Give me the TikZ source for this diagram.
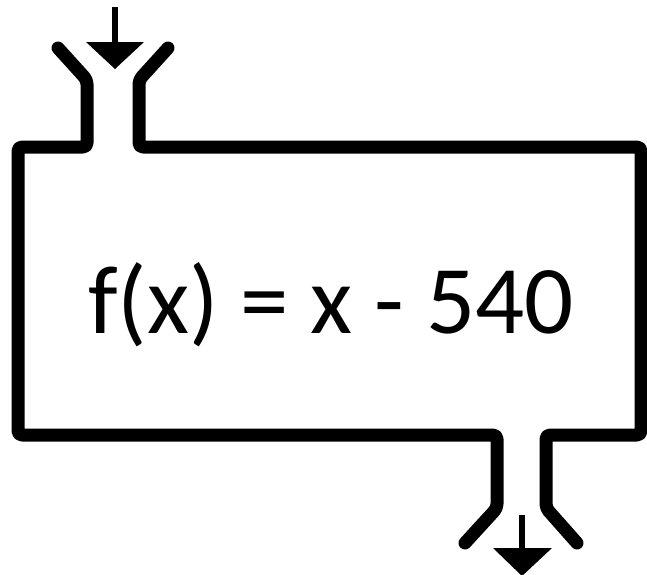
\documentclass[tikz,border=0pt]{standalone}
\usepackage{fontspec}
\setmainfont{Carlito}
\begin{document}
\begin{tikzpicture}[x=1pt,y=-1pt,
  pipe/.style={line width=13pt,line cap=round,line join=round,rounded corners=4pt},
  stem/.style={line width=6pt},
  headtri/.style={fill=black}]
\useasboundingbox (0,0) rectangle (647,574);
% input funnel + box
\coordinate (inL0) at (58,48);
\coordinate (inL1) at (87,80);
\coordinate (inL2) at (87,147);
\coordinate (tl) at (18,147);
\coordinate (bl) at (18,435);
\coordinate (outL0) at (497,435);
\coordinate (outL1) at (497,508);
\coordinate (outL2) at (465,543);
\coordinate (inR0) at (168,48);
\coordinate (inR1) at (139,80);
\coordinate (inR2) at (139,147);
\coordinate (tr) at (641,147);
\coordinate (br) at (641,435);
\coordinate (outR0) at (546,435);
\coordinate (outR1) at (546,508);
\coordinate (outR2) at (577,543);
\draw[pipe] (inL0) -- (inL1) -- (inL2) -- (tl) -- (bl) -- (outL0) -- (outL1) -- (outL2);
\draw[pipe] (inR0) -- (inR1) -- (inR2) -- (tr) -- (br) -- (outR0) -- (outR1) -- (outR2);
% input arrow
\coordinate (ia0) at (115,7);
\coordinate (ia1) at (115,43);
\draw[stem] (ia0) -- (ia1);
\fill[headtri] (86,42) -- (144,42) -- (115,69) -- cycle;
% output arrow
\coordinate (oa0) at (522,515);
\coordinate (oa1) at (522,549);
\draw[stem] (oa0) -- (oa1);
\fill[headtri] (493,548) -- (552,548) -- (522,576) -- cycle;
% label
\node[inner sep=0pt,anchor=base] (lbl) at (331,333) {\fontsize{97}{116}\selectfont f(x) = x - 540};
\end{tikzpicture}
\end{document}
